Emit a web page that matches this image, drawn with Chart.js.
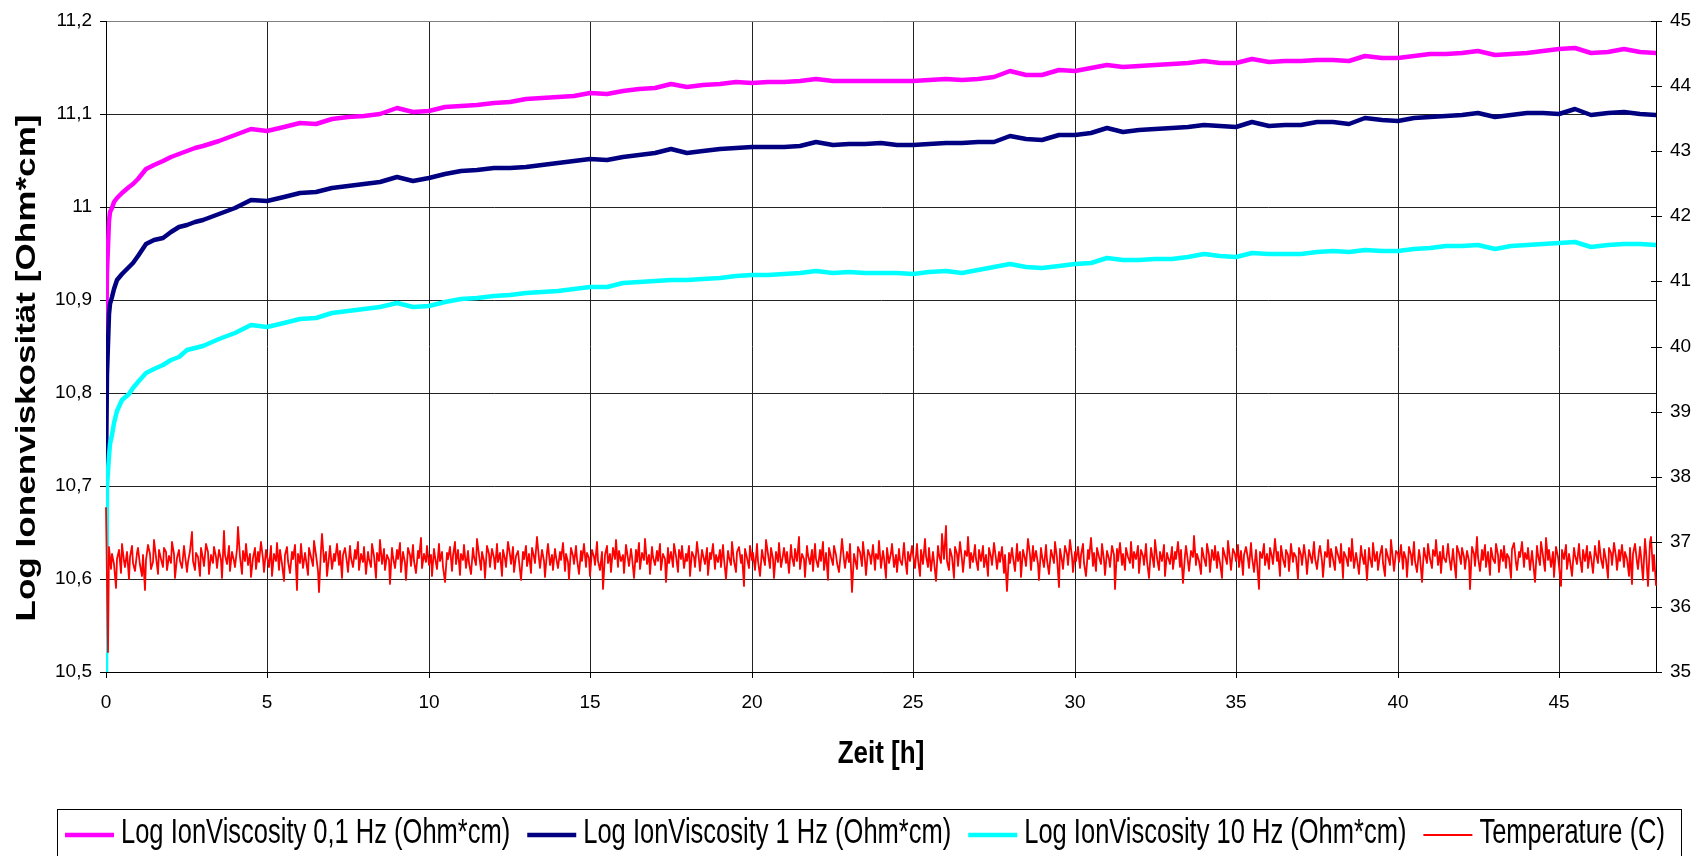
<!DOCTYPE html>
<html>
<head>
<meta charset="utf-8">
<title>Ionenviskosität und Temperatur</title>
<script src="https://cdn.jsdelivr.net/npm/chart.js@4.4.1/dist/chart.umd.min.js"></script>
<style>
  html, body { margin: 0; padding: 0; background: #ffffff; }
  canvas { display: block; }
</style>
</head>
<body>
<canvas id="chart" width="1707" height="856"></canvas>
<script>
// Sample times of the ion viscosity readings [h]
const hours = [
  0, 0.04, 0.08, 0.12, 0.18, 0.25, 0.35, 0.5, 0.7, 0.85,
  1.0, 1.25, 1.5, 1.75, 2.0, 2.25, 2.5, 2.75,
  3.0, 3.5, 4.0, 4.5, 5.0, 5.5, 6.0, 6.5, 7.0, 7.5,
  8.0, 8.5, 9.0, 9.5, 10.0, 10.5, 11.0, 11.5, 12.0, 12.5,
  13.0, 13.5, 14.0, 14.5, 15.0, 15.5, 16.0, 16.5, 17.0, 17.5,
  18.0, 18.5, 19.0, 19.5, 20.0, 20.5, 21.0, 21.5, 22.0, 22.5,
  23.0, 23.5, 24.0, 24.5, 25.0, 25.5, 26.0, 26.5, 27.0, 27.5,
  28.0, 28.5, 29.0, 29.5, 30.0, 30.5, 31.0, 31.5, 32.0, 32.5,
  33.0, 33.5, 34.0, 34.5, 35.0, 35.5, 36.0, 36.5, 37.0, 37.5,
  38.0, 38.5, 39.0, 39.5, 40.0, 40.5, 41.0, 41.5, 42.0, 42.5,
  43.0, 43.5, 44.0, 44.5, 45.0, 45.5, 46.0, 46.5, 47.0, 47.5,
  48.0
];

// Log IonViscosity at 0,1 Hz
const visc01 = [
  10.85, 10.93, 10.985, 10.995, 10.999, 11.005, 11.010, 11.015, 11.022, 11.025,
  11.030, 11.041, 11.045, 11.049, 11.054, 11.057, 11.060, 11.063,
  11.066, 11.071, 11.077, 11.084, 11.082, 11.086, 11.090, 11.089, 11.095, 11.097,
  11.098, 11.100, 11.106, 11.102, 11.103, 11.107, 11.109, 11.110, 11.112, 11.113,
  11.116, 11.117, 11.118, 11.119, 11.123, 11.122, 11.125, 11.127, 11.128, 11.132,
  11.129, 11.131, 11.132, 11.134, 11.133, 11.134, 11.134, 11.135, 11.138, 11.135,
  11.136, 11.135, 11.135, 11.136, 11.135, 11.137, 11.138, 11.137, 11.138, 11.140,
  11.146, 11.142, 11.142, 11.147, 11.146, 11.149, 11.153, 11.150, 11.152, 11.153,
  11.154, 11.155, 11.157, 11.155, 11.155, 11.159, 11.156, 11.157, 11.157, 11.158,
  11.158, 11.157, 11.162, 11.160, 11.160, 11.162, 11.164, 11.165, 11.166, 11.168,
  11.163, 11.165, 11.166, 11.168, 11.170, 11.171, 11.166, 11.167, 11.170, 11.167,
  11.166
];

// Log IonViscosity at 1 Hz
const visc1 = [
  10.72, 10.82, 10.885, 10.896, 10.903, 10.912, 10.921, 10.928, 10.935, 10.940,
  10.947, 10.960, 10.964, 10.967, 10.973, 10.978, 10.981, 10.984,
  10.986, 10.992, 10.999, 11.008, 11.006, 11.011, 11.015, 11.016, 11.020, 11.023,
  11.025, 11.027, 11.032, 11.028, 11.031, 11.035, 11.039, 11.040, 11.042, 11.042,
  11.043, 11.045, 11.047, 11.049, 11.052, 11.051, 11.054, 11.056, 11.058, 11.062,
  11.058, 11.060, 11.062, 11.063, 11.064, 11.064, 11.065, 11.066, 11.070, 11.067,
  11.068, 11.068, 11.069, 11.067, 11.067, 11.068, 11.069, 11.069, 11.070, 11.070,
  11.076, 11.073, 11.072, 11.077, 11.077, 11.080, 11.085, 11.081, 11.083, 11.084,
  11.085, 11.086, 11.088, 11.087, 11.086, 11.091, 11.087, 11.088, 11.088, 11.091,
  11.091, 11.089, 11.096, 11.094, 11.093, 11.096, 11.097, 11.098, 11.099, 11.101,
  11.097, 11.099, 11.101, 11.101, 11.100, 11.105, 11.099, 11.101, 11.102, 11.100,
  11.099
];

// Log IonViscosity at 10 Hz
const visc10 = [
  10.50, 10.70, 10.732, 10.745, 10.755, 10.768, 10.781, 10.792, 10.799, 10.805,
  10.812, 10.821, 10.826, 10.830, 10.836, 10.839, 10.846, 10.848,
  10.851, 10.858, 10.865, 10.873, 10.871, 10.875, 10.880, 10.881, 10.886, 10.888,
  10.890, 10.892, 10.897, 10.892, 10.894, 10.898, 10.901, 10.902, 10.904, 10.905,
  10.907, 10.909, 10.910, 10.912, 10.914, 10.914, 10.918, 10.919, 10.920, 10.922,
  10.921, 10.923, 10.924, 10.926, 10.927, 10.927, 10.928, 10.929, 10.931, 10.929,
  10.930, 10.929, 10.929, 10.929, 10.928, 10.930, 10.931, 10.929, 10.932, 10.935,
  10.939, 10.936, 10.934, 10.937, 10.939, 10.940, 10.945, 10.943, 10.943, 10.944,
  10.944, 10.946, 10.950, 10.947, 10.946, 10.951, 10.949, 10.950, 10.950, 10.952,
  10.953, 10.952, 10.954, 10.953, 10.953, 10.955, 10.956, 10.958, 10.958, 10.959,
  10.955, 10.958, 10.959, 10.960, 10.961, 10.962, 10.957, 10.959, 10.960, 10.960,
  10.959
];

// Temperature (C), logged every 0.05 h from t = 0 (one row per hour)
const tempStep = 0.05;
const temperature = [
  37.52, 35.30, 36.92, 36.58, 36.81, 36.66, 36.29, 36.74, 36.88, 36.52, 36.97, 36.70, 36.61, 36.85, 36.43, 36.77, 36.93, 36.68, 36.55, 36.83,
  36.90, 36.64, 36.47, 36.79, 36.26, 36.72, 36.95, 36.81, 36.58, 36.69, 37.02, 36.76, 36.50, 36.87, 36.73, 36.62, 36.91, 36.84, 36.56, 36.78,
  36.67, 36.99, 36.82, 36.45, 36.75, 36.88, 36.71, 36.60, 36.94, 36.80, 36.53, 36.69, 36.86, 37.15, 36.70, 36.57, 36.83, 36.77, 36.48, 36.90,
  36.74, 36.63, 36.96, 36.85, 36.51, 36.79, 36.68, 36.92, 36.76, 36.59, 36.87, 36.72, 36.44, 37.16, 36.80, 36.66, 36.93, 36.55, 36.84, 36.71,
  36.62, 36.89, 37.22, 36.77, 36.50, 36.86, 36.70, 36.97, 36.64, 36.81, 36.46, 36.75, 36.91, 36.58, 36.84, 36.69, 36.99, 36.73, 36.54, 36.88,
  36.78, 36.61, 36.94, 36.48, 36.82, 36.71, 36.98, 36.57, 36.87, 36.66, 36.40, 36.79, 36.92, 36.70, 36.52, 36.85, 36.74, 36.95, 36.26, 36.81,
  36.68, 36.96, 36.59, 36.83, 36.72, 36.49, 36.90, 36.77, 36.63, 37.01, 36.80, 36.55, 36.23, 36.88, 37.12, 36.69, 36.84, 36.47, 36.76, 36.93,
  36.58, 36.82, 36.71, 36.97, 36.64, 36.86, 36.44, 36.79, 36.90, 36.67, 36.53, 36.94, 36.75, 36.62, 36.88, 36.73, 36.99, 36.56, 36.81, 36.69,
  36.92, 36.50, 36.85, 36.74, 36.61, 36.96, 36.78, 36.45, 36.83, 36.70, 37.03, 36.66, 36.89, 36.57, 36.80, 36.72, 36.35, 36.91, 36.76, 36.60,
  36.87, 36.73, 36.98, 36.54, 36.84, 36.67, 36.42, 36.90, 36.79, 36.63, 36.95, 36.71, 36.52, 36.86, 36.75, 37.06, 36.59, 36.82, 36.69, 36.93,
  36.64, 36.80, 36.47, 36.89, 36.76, 36.58, 36.97, 36.70, 36.85, 36.61, 36.38, 36.83, 36.74, 36.92, 36.55, 36.78, 37.00, 36.66, 36.88, 36.49,
  36.81, 36.72, 36.95, 36.60, 36.86, 36.68, 36.50, 36.91, 36.77, 36.65, 37.04, 36.79, 36.56, 36.84, 36.71, 36.44, 36.93, 36.82, 36.62, 36.89,
  36.75, 36.58, 36.96, 36.69, 36.83, 36.48, 36.88, 36.74, 36.61, 36.99, 36.80, 36.66, 36.92, 36.53, 36.78, 36.86, 36.70, 36.41, 36.85, 36.73,
  36.94, 36.63, 36.81, 36.52, 36.90, 36.77, 36.67, 37.08, 36.74, 36.59, 36.87, 36.71, 36.46, 36.84, 36.97, 36.64, 36.79, 36.56, 36.89, 36.76,
  36.60, 36.85, 36.72, 36.98, 36.55, 36.81, 36.69, 36.43, 36.91, 36.78, 36.66, 36.94, 36.73, 36.51, 36.86, 36.70, 36.96, 36.62, 36.83, 36.75,
  36.48, 36.88, 36.77, 36.64, 36.99, 36.71, 36.57, 36.84, 36.27, 36.79, 36.93, 36.68, 36.82, 36.54, 36.90, 36.73, 37.02, 36.61, 36.86, 36.70,
  36.80, 36.52, 36.95, 36.74, 36.63, 36.89, 36.76, 36.45, 36.87, 36.69, 36.98, 36.58, 36.83, 36.72, 37.05, 36.66, 36.79, 36.50, 36.92, 36.77,
  36.65, 36.86, 36.71, 36.96, 36.56, 36.82, 36.74, 36.39, 36.90, 36.68, 36.84, 36.61, 36.97, 36.78, 36.53, 36.88, 36.73, 36.94, 36.60, 36.81,
  36.70, 36.93, 36.47, 36.85, 36.76, 36.62, 37.00, 36.72, 36.55, 36.87, 36.79, 36.66, 36.91, 36.49, 36.83, 36.74, 36.97, 36.58, 36.80, 36.69,
  36.88, 36.61, 36.95, 36.73, 36.43, 36.86, 36.77, 36.64, 36.99, 36.70, 36.53, 36.84, 36.92, 36.68, 36.79, 36.32, 36.89, 36.75, 36.60, 36.94,
  36.72, 36.83, 36.57, 36.96, 36.70, 36.48, 36.87, 36.78, 36.65, 37.03, 36.81, 36.59, 36.90, 36.74, 36.44, 36.85, 36.69, 36.98, 36.62, 36.80,
  36.91, 36.67, 36.84, 36.52, 36.95, 36.76, 36.63, 36.89, 36.71, 37.07, 36.58, 36.82, 36.73, 36.46, 36.93, 36.79, 36.66, 36.87, 36.55, 36.97,
  36.74, 36.61, 36.88, 36.70, 36.99, 36.57, 36.83, 36.42, 36.90, 36.77, 36.65, 36.94, 36.80, 36.68, 36.53, 36.86, 37.04, 36.72, 36.59, 36.84,
  36.69, 36.96, 36.23, 36.81, 36.74, 36.58, 36.92, 36.85, 36.63, 36.99, 36.70, 36.49, 36.87, 36.78, 36.66, 36.95, 36.56, 36.82, 36.73, 37.01,
  36.60, 36.86, 36.75, 36.45, 36.91, 36.68, 36.83, 36.97, 36.62, 36.79, 36.54, 36.89, 36.72, 36.64, 36.98, 36.77, 36.51, 36.85, 36.70, 36.93,
  36.81, 36.59, 36.96, 36.73, 36.48, 36.88, 36.66, 37.05, 36.78, 36.62, 36.91, 36.55, 36.84, 36.71, 36.40, 36.94, 36.80, 36.67, 37.12, 36.74,
  37.25, 36.70, 36.57, 36.89, 36.76, 36.44, 36.92, 36.81, 36.63, 36.99, 36.72, 36.53, 36.86, 36.78, 37.08, 36.60, 36.83, 36.69, 36.95, 36.74,
  36.56, 36.87, 36.71, 36.94, 36.62, 36.80, 36.47, 36.90, 36.76, 36.65, 36.98, 36.73, 36.58, 36.85, 36.69, 36.92, 36.52, 36.79, 36.25, 36.83,
  36.68, 36.91, 36.77, 36.55, 36.97, 36.70, 36.84, 36.46, 36.88, 36.74, 36.63, 37.04, 36.80, 36.57, 36.93, 36.71, 36.86, 36.66, 36.42, 36.90,
  36.78, 36.61, 36.95, 36.72, 36.50, 36.87, 36.82, 36.67, 36.99, 36.75, 36.30, 36.89, 36.70, 36.58, 36.94, 36.81, 36.64, 37.02, 36.76, 36.53,
  36.85, 36.71, 36.92, 36.60, 36.79, 36.97, 36.68, 36.47, 36.88, 36.74, 37.06, 36.63, 36.83, 36.55, 36.90, 36.77, 36.66, 36.96, 36.72, 36.49,
  36.86, 36.73, 36.61, 36.94, 36.80, 36.27, 36.89, 36.70, 36.98, 36.64, 36.82, 36.56, 36.91, 36.76, 36.67, 37.00, 36.59, 36.84, 36.74, 36.93,
  36.52, 36.87, 36.78, 36.65, 36.96, 36.71, 36.44, 36.90, 36.81, 36.62, 37.03, 36.75, 36.57, 36.85, 36.70, 36.95, 36.48, 36.83, 36.77, 36.66,
  36.92, 36.58, 36.84, 36.73, 36.99, 36.61, 36.88, 36.37, 36.79, 36.94, 36.69, 36.55, 36.86, 36.76, 37.09, 36.64, 36.82, 36.71, 36.50, 36.90,
  36.75, 36.63, 36.97, 36.80, 36.54, 36.87, 36.72, 36.93, 36.59, 36.84, 36.68, 36.45, 36.91, 36.78, 36.66, 37.01, 36.74, 36.57, 36.89, 36.81,
  36.70, 36.95, 36.62, 36.86, 36.49, 36.79, 36.92, 36.73, 36.60, 36.98, 36.76, 36.53, 36.88, 36.69, 36.28, 36.84, 36.75, 36.96, 36.64, 36.82,
  36.58, 36.90, 36.77, 36.66, 37.05, 36.71, 36.85, 36.47, 36.93, 36.74, 36.62, 36.87, 36.80, 36.55, 36.97, 36.69, 36.83, 36.76, 36.43, 36.91,
  36.79, 36.64, 36.95, 36.72, 36.51, 36.88, 36.81, 36.67, 36.99, 36.75, 36.58, 36.86, 36.93, 36.70, 36.46, 36.84, 36.77, 37.02, 36.61, 36.89,
  36.73, 36.56, 36.92, 36.80, 36.68, 36.97, 36.44, 36.85, 36.76, 36.63, 36.90, 36.71, 37.04, 36.59, 36.83, 36.74, 36.50, 36.94, 36.79, 36.66,
  36.87, 36.41, 36.91, 36.75, 36.62, 36.98, 36.70, 36.84, 36.57, 36.80, 36.93, 36.68, 36.47, 36.89, 36.77, 36.64, 37.03, 36.72, 36.55, 36.86,
  36.81, 36.69, 36.95, 36.58, 36.84, 36.74, 36.46, 36.92, 36.79, 36.65, 36.99, 36.71, 36.54, 36.88, 36.76, 36.38, 36.90, 36.82, 36.67, 36.96,
  36.73, 36.60, 36.87, 36.78, 37.02, 36.64, 36.85, 36.52, 36.93, 36.75, 36.69, 36.97, 36.80, 36.56, 36.89, 36.72, 36.45, 36.94, 36.83, 36.66,
  36.91, 36.77, 36.58, 36.86, 36.70, 36.27, 36.92, 36.81, 36.63, 37.08, 36.76, 36.55, 36.88, 36.72, 36.95, 36.61, 36.84, 36.49, 36.90, 36.74,
  36.67, 36.96, 36.79, 36.53, 36.87, 36.71, 36.93, 36.60, 36.82, 36.75, 36.45, 36.89, 36.98, 36.68, 36.56, 36.85, 36.77, 37.00, 36.62, 36.83,
  36.74, 36.91, 36.57, 36.86, 36.70, 36.38, 36.94, 36.80, 36.65, 36.99, 36.78, 36.55, 37.06, 36.72, 36.88, 36.61, 36.84, 36.46, 36.92, 36.76,
  36.63, 36.32, 36.87, 36.73, 36.95, 36.58, 36.82, 36.70, 36.48, 36.90, 36.79, 36.66, 36.97, 36.75, 36.54, 36.88, 36.71, 36.93, 36.60, 36.85,
  36.77, 36.52, 36.94, 36.81, 36.68, 37.01, 36.74, 36.59, 36.89, 36.72, 36.44, 36.91, 36.83, 36.64, 36.98, 36.76, 36.56, 36.87, 36.70, 36.95,
  36.62, 36.84, 36.73, 36.47, 36.90, 36.35, 36.81, 36.97, 36.69, 36.58, 36.92, 36.78, 36.42, 37.05, 36.86, 36.32, 36.99, 37.07, 36.55, 36.80,
  36.34, 36.88, 36.66, 36.35, 36.72
];

// Axis texts and tick labels
const leftTickLabels = ['10,5', '10,6', '10,7', '10,8', '10,9', '11', '11,1', '11,2'];
const rightTickLabels = ['35', '36', '37', '38', '39', '40', '41', '42', '43', '44', '45'];
const xTickLabels = ['0', '5', '10', '15', '20', '25', '30', '35', '40', '45'];
const seriesLabels = [
  'Log IonViscosity 0,1 Hz (Ohm*cm)',
  'Log IonViscosity 1 Hz (Ohm*cm)',
  'Log IonViscosity 10 Hz (Ohm*cm)',
  'Temperature (C)'
];
const xTitle = 'Zeit [h]';
const yTitle = 'Log Ionenviskosität [Ohm*cm]';

const FONT = "'Liberation Sans', Arial, Helvetica, sans-serif";
Chart.defaults.font.family = FONT;
Chart.defaults.color = '#000';

const toPoints = (xs, ys) => ys.map((y, i) => ({ x: xs[i], y }));
const tempHours = temperature.map((_, i) => Math.round(i * tempStep * 100) / 100);

// Extra drawing: inner ticks on the temperature axis, axis titles, boxed legend
const decorations = {
  id: 'decorations',
  afterDraw(chart) {
    const { ctx, chartArea, scales } = chart;
    ctx.save();

    // inner half of the temperature axis tick marks
    ctx.strokeStyle = '#000';
    ctx.lineWidth = 1;
    scales.y2.ticks.forEach(t => {
      const y = Math.round(scales.y2.getPixelForValue(t.value)) + 0.5;
      ctx.beginPath();
      ctx.moveTo(chartArea.right - 5, y);
      ctx.lineTo(chartArea.right, y);
      ctx.stroke();
    });

    ctx.fillStyle = '#000';

    // left axis title
    ctx.save();
    ctx.translate(28, 368);
    ctx.rotate(-Math.PI / 2);
    ctx.scale(1.3, 1);
    ctx.font = 'bold 27px ' + FONT;
    ctx.textAlign = 'center';
    ctx.textBaseline = 'middle';
    ctx.fillText(yTitle, 0, 0);
    ctx.restore();

    // bottom axis title
    ctx.save();
    ctx.translate((chartArea.left + chartArea.right) / 2, 754);
    ctx.scale(1, 1.2);
    ctx.font = 'bold 26px ' + FONT;
    ctx.textAlign = 'center';
    ctx.textBaseline = 'middle';
    ctx.fillText(xTitle, 0, 0);
    ctx.restore();

    // legend
    const boxLeft = 57, boxRight = 1681, boxTop = 809.5;
    ctx.strokeStyle = '#000';
    ctx.lineWidth = 1;
    ctx.strokeRect(boxLeft + 0.5, boxTop, boxRight - boxLeft, 80);

    const baseline = 843;
    const stretch = 1.35;
    ctx.font = '25.5px ' + FONT;
    ctx.textAlign = 'left';
    ctx.textBaseline = 'alphabetic';
    let x = 65;
    chart.data.datasets.forEach(ds => {
      ctx.strokeStyle = ds.borderColor;
      ctx.lineWidth = ds.borderWidth;
      ctx.beginPath();
      ctx.moveTo(x, 835);
      ctx.lineTo(x + 49, 835);
      ctx.stroke();
      const tx = x + 56;
      ctx.save();
      ctx.translate(tx, baseline);
      ctx.scale(1, stretch);
      ctx.fillText(ds.label, 0, 0);
      ctx.restore();
      x = tx + ctx.measureText(ds.label).width + 17;
    });

    ctx.restore();
  }
};

new Chart(document.getElementById('chart'), {
  type: 'line',
  data: {
    datasets: [
      { label: seriesLabels[0], data: toPoints(hours, visc01), borderColor: '#FF00FF', borderWidth: 4.5, yAxisID: 'y', order: 4 },
      { label: seriesLabels[1], data: toPoints(hours, visc1), borderColor: '#000080', borderWidth: 4.5, yAxisID: 'y', order: 3 },
      { label: seriesLabels[2], data: toPoints(hours, visc10), borderColor: '#00FFFF', borderWidth: 4.5, yAxisID: 'y', order: 2 },
      { label: seriesLabels[3], data: toPoints(tempHours, temperature), borderColor: '#FF0000', borderWidth: 1.8, yAxisID: 'y2', order: 1,
        clip: { left: 1, top: 1, right: 8, bottom: 1 } }
    ]
  },
  options: {
    responsive: false,
    animation: false,
    events: [],
    elements: {
      point: { radius: 0 },
      line: { tension: 0, borderJoinStyle: 'round', borderCapStyle: 'round' }
    },
    layout: { padding: { top: 21, left: 0, right: 0, bottom: 0 } },
    plugins: { legend: { display: false }, tooltip: { enabled: false } },
    scales: {
      x: {
        type: 'linear',
        min: 0,
        max: 48,
        alignToPixels: true,
        afterFit(s) { s.height = 184; },
        ticks: {
          stepSize: 5,
          includeBounds: false,
          padding: 13,
          maxRotation: 0,
          font: { size: 19 },
          color: '#000',
          callback: (v) => xTickLabels[Math.round(v / 5)]
        },
        grid: { color: '#222', lineWidth: 1, tickLength: 6, tickColor: '#000' },
        border: { color: '#000', width: 1 }
      },
      y: {
        type: 'linear',
        position: 'left',
        min: 10.5,
        max: 11.2,
        alignToPixels: true,
        afterFit(s) { s.width = 106; },
        ticks: {
          stepSize: 0.1,
          padding: 8,
          font: { size: 19 },
          color: '#000',
          callback: (v, i) => leftTickLabels[i]
        },
        grid: {
          color: (c) => (c.index === leftTickLabels.length - 1 ? '#808080' : '#222'),
          lineWidth: 1,
          tickLength: 6,
          tickColor: '#000'
        },
        border: { color: '#000', width: 1 }
      },
      y2: {
        type: 'linear',
        position: 'right',
        min: 35,
        max: 45,
        alignToPixels: true,
        afterFit(s) { s.width = 51; },
        ticks: {
          stepSize: 1,
          padding: 8,
          font: { size: 19 },
          color: '#000',
          callback: (v, i) => rightTickLabels[i]
        },
        grid: { drawOnChartArea: false, lineWidth: 1, tickLength: 6, tickColor: '#000' },
        border: { color: '#000', width: 1 }
      }
    }
  },
  plugins: [decorations]
});
</script>
</body>
</html>
